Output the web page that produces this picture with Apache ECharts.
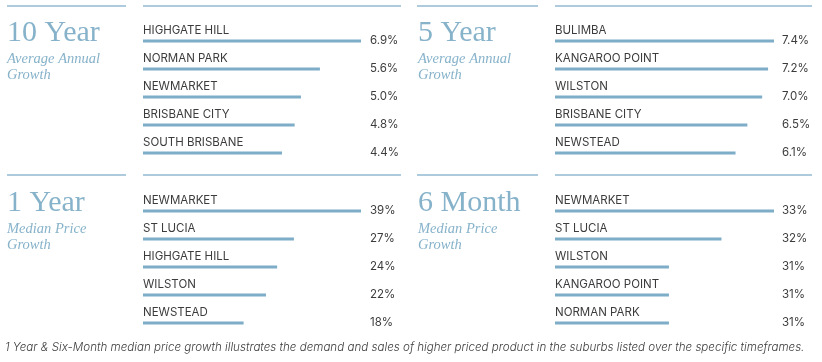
<!DOCTYPE html>
<html>
<head>
<meta charset="utf-8">
<script src="https://cdn.jsdelivr.net/npm/echarts@6/dist/echarts.min.js"></script>
<style>
html,body{margin:0;padding:0;background:#fff;}
#chart{width:822px;height:362px;}
</style>
</head>
<body>
<div id="chart"></div>
<script>
// ---- Data ----
const cats10 = ['HIGHGATE HILL', 'NORMAN PARK', 'NEWMARKET', 'BRISBANE CITY', 'SOUTH BRISBANE'];
const vals10 = [6.9, 5.6, 5.0, 4.8, 4.4];
const cats5 = ['BULIMBA', 'KANGAROO POINT', 'WILSTON', 'BRISBANE CITY', 'NEWSTEAD'];
const vals5 = [7.4, 7.2, 7.0, 6.5, 6.1];
const cats1 = ['NEWMARKET', 'ST LUCIA', 'HIGHGATE HILL', 'WILSTON', 'NEWSTEAD'];
const vals1 = [39, 27, 24, 22, 18];
const cats6 = ['NEWMARKET', 'ST LUCIA', 'WILSTON', 'KANGAROO POINT', 'NORMAN PARK'];
const vals6 = [33, 32, 31, 31, 31];
// axis start for the 6 month panel (bars in the source do not start at zero)
const min6 = 28.83;

const titles = ['10 Year', '5 Year', '1 Year', '6 Month'];
const subtitles = ['Average Annual\nGrowth', 'Average Annual\nGrowth', 'Median Price\nGrowth', 'Median Price\nGrowth'];
const footnote = '1 Year & Six-Month median price growth illustrates the demand and sales of higher priced product in the suburbs listed over the specific timeframes.';

// ---- Styles ----
const BAR = '#7eadc8';
const TITLE = '#86b2ca';
const LINE = '#92bad0';
const TXT = '#3c3c3c';
const SANS = 'Inter, "Open Sans", sans-serif';
const SERIF = '"Liberation Serif", "DejaVu Serif", serif';

const panels = [
  {cats: cats10, vals: vals10, dec: 1, left: 143, width: 218, top: 27, tx: 7, ty: 17, min: 0},
  {cats: cats5, vals: vals5, dec: 1, left: 555, width: 219, top: 27, tx: 418, ty: 17, min: 0},
  {cats: cats1, vals: vals1, dec: 0, left: 143, width: 218, top: 197, tx: 7, ty: 187, min: 0},
  {cats: cats6, vals: vals6, dec: 0, left: 555, width: 219, top: 197, tx: 418, ty: 187, min: min6}
];

const grid = [], xAxis = [], yAxis = [], series = [], title = [];
panels.forEach((p, i) => {
  grid.push({left: p.left, top: p.top, width: p.width, height: 140, containLabel: false});
  xAxis.push({type: 'value', gridIndex: i, min: p.min, max: 'dataMax', show: false});
  yAxis.push({
    type: 'category', gridIndex: i, inverse: true, data: p.cats,
    axisLine: {show: false}, axisTick: {show: false}, splitLine: {show: false},
    axisLabel: {inside: true, margin: 0, align: 'left', verticalAlign: 'bottom', lineHeight: 21,
      fontFamily: SANS, fontSize: 11.5, color: TXT}
  });
  yAxis.push({
    type: 'category', gridIndex: i, inverse: true, position: 'right',
    data: p.vals.map(v => v.toFixed(p.dec) + '%'),
    axisLine: {show: false}, axisTick: {show: false}, splitLine: {show: false},
    axisLabel: {margin: i % 2 ? 8 : 9, align: 'left', fontFamily: SANS, fontSize: 11.5, color: TXT}
  });
  series.push({
    type: 'bar', xAxisIndex: i, yAxisIndex: i * 2, data: p.vals, barWidth: 3,
    itemStyle: {color: BAR}, silent: true, clip: true
  });
  title.push({
    left: p.tx, top: p.ty, padding: 0, itemGap: 2,
    text: titles[i], subtext: subtitles[i],
    textStyle: {fontFamily: SERIF, fontSize: 30, fontWeight: 'normal', color: TITLE, lineHeight: 32},
    subtextStyle: {fontFamily: SERIF, fontStyle: 'italic', fontSize: 14.5, color: TITLE, lineHeight: 16}
  });
});
title.push({
  left: 5, top: 341, padding: 0, text: footnote,
  textStyle: {fontFamily: SANS, fontStyle: 'italic', fontSize: 11.6, fontWeight: 300, color: TXT, lineHeight: 14}
});

const segs = [[7, 126], [143, 401], [417, 538], [555, 812]];
const graphic = [];
[6, 175].forEach(y => segs.forEach(s => graphic.push({
  type: 'line', silent: true,
  shape: {x1: s[0], y1: y, x2: s[1], y2: y},
  style: {stroke: LINE, lineWidth: 1.5}
})));

const chart = echarts.init(document.getElementById('chart'), null, {renderer: 'canvas'});
chart.setOption({animation: false, title, grid, xAxis, yAxis, series, graphic});
</script>
</body>
</html>
